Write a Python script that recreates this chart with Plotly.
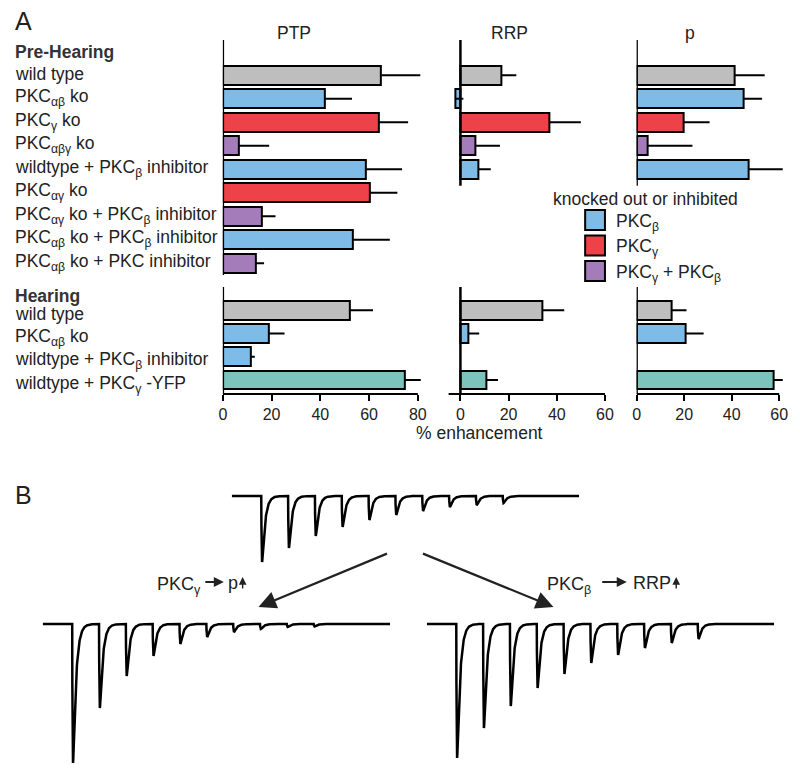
import numpy as np
import plotly.graph_objects as go

# The page body has an 8px margin; positions below are given in window pixels
OFF = 8
W, H = 792, 763
FONT = "Liberation Sans, Arial, Helvetica, sans-serif"
TXT = "#222222"

# ---------------- data ----------------
pre_labels = [
    "wild type",
    "PKC<sub>αβ</sub> ko",
    "PKC<sub>γ</sub> ko",
    "PKC<sub>αβγ</sub> ko",
    "wildtype + PKC<sub>β</sub> inhibitor",
    "PKC<sub>αγ</sub> ko",
    "PKC<sub>αγ</sub> ko + PKC<sub>β</sub> inhibitor",
    "PKC<sub>αβ</sub> ko + PKC<sub>β</sub> inhibitor",
    "PKC<sub>αβ</sub> ko + PKC inhibitor",
]
pre_groups = ["wt", "beta", "gamma", "both", "beta", "gamma", "both", "beta", "both"]

hear_labels = [
    "wild type",
    "PKC<sub>αβ</sub> ko",
    "wildtype + PKC<sub>β</sub> inhibitor",
    "wildtype + PKC<sub>γ</sub> -YFP",
]
hear_groups = ["wt", "beta", "beta", "yfp"]

ptp_pre = [65, 42, 64, 6.6, 58.5, 60.2, 16.2, 53.5, 13.4]
ptp_pre_err = [16, 11, 12, 12.4, 15, 11.4, 5.4, 15, 3.5]
rrp_pre = [17.2, -2.0, 37, 6.4, 7.4]
rrp_pre_err = [6, 3.2, 13, 10, 5.2]
p_pre = [41.1, 44.9, 19.9, 4.6, 47]
p_pre_err = [12.8, 7.9, 10.8, 18.9, 14.5]

ptp_hear = [52, 18.8, 11.5, 74.7]
ptp_hear_err = [9.6, 6.5, 1.6, 6.5]
rrp_hear = [33.9, 3.4, None, 10.6]
rrp_hear_err = [9.2, 4.4, 0, 5]
p_hear = [14.6, 20.7, None, 57.8]
p_hear_err = [6.4, 7.5, 0, 3.7]

group_colors = {
    "wt": "#bebebe",
    "beta": "#7fbbe7",
    "gamma": "#ec4248",
    "both": "#a57cba",
    "yfp": "#7cc4bb",
}
legend_items = [
    ("beta", "PKC<sub>β</sub>"),
    ("gamma", "PKC<sub>γ</sub>"),
    ("both", "PKC<sub>γ</sub> + PKC<sub>β</sub>"),
]

# Panel B: EPSC amplitudes (nA) of a 10-pulse train
stim_interval_ms = 10
top_amp = [6.6, 5.2, 4.0, 3.1, 2.4, 1.9, 1.5, 1.1, 0.9, 0.7]
gamma_amp = [13.9, 8.4, 5.2, 3.2, 2.0, 1.3, 0.8, 0.5, 0.3, 0.25]
beta_amp = [13.4, 10.4, 8.2, 6.4, 5.0, 3.9, 3.1, 2.4, 1.9, 1.5]


# ---------------- helpers (window pixels -> paper) ----------------
def px(x):
    return (x - OFF) / W


def py(y):
    return 1 - (y - OFF) / H


def xd(a, b):
    return [px(a), px(b)]


def yd(top, bottom):
    return [py(bottom), py(top)]


fig = go.Figure()


def add_bars(vals, errs, groups, ax):
    n = len(vals)
    fig.add_trace(go.Bar(
        x=vals, y=list(range(n)), orientation="h", width=0.81,
        marker=dict(color=[group_colors[g] for g in groups[:n]],
                    line=dict(color="black", width=2)),
        error_x=dict(type="data", array=errs, arrayminus=[0] * n,
                     symmetric=False, color="black", thickness=2, width=0),
        xaxis="x" + ax, yaxis="y" + ax, showlegend=False, cliponaxis=False,
        hoverinfo="skip",
    ))


add_bars(ptp_pre, ptp_pre_err, pre_groups, "")
add_bars(rrp_pre, rrp_pre_err, pre_groups, "2")
add_bars(p_pre, p_pre_err, pre_groups, "3")
add_bars(ptp_hear, ptp_hear_err, hear_groups, "4")
add_bars(rrp_hear, rrp_hear_err, hear_groups, "5")
add_bars(p_hear, p_hear_err, hear_groups, "6")

# Panel B traces
t = np.arange(-11, 118.5, 0.05)


def epsc_train(amps):
    tr, td = 0.12, 1.1
    tpk = np.log(td / tr) * td * tr / (td - tr)
    norm = np.exp(-tpk / td) - np.exp(-tpk / tr)
    y = np.zeros_like(t)
    for i, a in enumerate(amps):
        s = t - i * stim_interval_ms
        k = np.where(s > 0, (np.exp(-s / td) - np.exp(-s / tr)) / norm, 0.0)
        y -= a * k
    return y


for amps, ax in [(top_amp, "7"), (gamma_amp, "8"), (beta_amp, "9")]:
    fig.add_trace(go.Scatter(
        x=t, y=epsc_train(amps), mode="lines",
        line=dict(color="black", width=2.5),
        xaxis="x" + ax, yaxis="y" + ax, showlegend=False, hoverinfo="skip",
    ))

# ---------------- axes ----------------
k_ptp, k_rrp, k_p = 197 / 80, 146 / 60, 144 / 60
xdom = {
    "ptp": xd(221, 221 + 84 * k_ptp),
    "rrp": xd(461 - 5 * k_rrp, 461 + 62 * k_rrp),
    "p": xd(639, 639 + 64 * k_p),
}
xrng = {"ptp": [0, 84], "rrp": [-5, 62], "p": [0, 64]}
xline = {"ptp": [0, 80], "rrp": [-5, 60], "p": [0, 60]}
xticks = {"ptp": [0, 20, 40, 60, 80], "rrp": [0, 20, 40, 60], "p": [0, 20, 40, 60]}

layout_axes = {}
names = ["ptp", "rrp", "p"]
for i, nm in enumerate(names):
    a = "" if i == 0 else str(i + 1)
    ydom_pre = yd(40, 275) if nm == "ptp" else yd(40, 40 + 6.2 * 23.5)
    yr_pre = [8.5, -1.5] if nm == "ptp" else [4.7, -1.5]
    layout_axes["xaxis" + a] = dict(domain=xdom[nm], range=xrng[nm], anchor="y" + a,
                                    visible=False, fixedrange=True)
    layout_axes["yaxis" + a] = dict(domain=ydom_pre, range=yr_pre, anchor="x" + a,
                                    visible=False, fixedrange=True)
    b = str(i + 4)
    layout_axes["xaxis" + b] = dict(
        domain=xdom[nm], range=xrng[nm], anchor="y" + b,
        showgrid=False, zeroline=False, showline=False,
        ticks="outside", ticklen=6, tickwidth=2, tickcolor="black",
        tickvals=xticks[nm], ticktext=[str(v) for v in xticks[nm]],
        tickfont=dict(family=FONT, size=16, color=TXT), fixedrange=True,
    )
    layout_axes["yaxis" + b] = dict(domain=yd(287, 394), range=[3.6, -1.0],
                                    anchor="x" + b, visible=False, fixedrange=True)

for ax, x0, ytop in [("7", 230, 488), ("8", 39, 616), ("9", 427, 616)]:
    layout_axes["xaxis" + ax] = dict(domain=xd(x0, x0 + 351), range=[-11, 118.5],
                                     anchor="y" + ax, visible=False, fixedrange=True)
    layout_axes["yaxis" + ax] = dict(domain=yd(ytop, ytop + 153), range=[-14.5, 0.8],
                                     anchor="x" + ax, visible=False, fixedrange=True)

# ---------------- shapes ----------------
shapes = []
for a in ["", "2", "3", "4", "5", "6"]:
    shapes.append(dict(type="line", xref="x" + a, yref=("y" + a) + " domain",
                       x0=0, x1=0, y0=0, y1=1, line=dict(color="black", width=2.5)))
for i, nm in enumerate(names):
    b = str(i + 4)
    shapes.append(dict(type="line", xref="x" + b, yref="y" + b + " domain",
                       x0=xline[nm][0], x1=xline[nm][1], y0=0, y1=0,
                       line=dict(color="black", width=2)))

for j, (g, lab) in enumerate(legend_items):
    top = 210 + j * 25.5
    shapes.append(dict(type="rect", xref="paper", yref="paper",
                       x0=px(587), x1=px(607), y0=py(top + 20), y1=py(top),
                       fillcolor=group_colors[g], line=dict(color="black", width=2)))

# ---------------- annotations ----------------
ann = []


def text(x, y, s, size=17.5, xanchor="left", yanchor="middle", **kw):
    d = dict(x=px(x), y=py(y), xref="paper", yref="paper", text=s, showarrow=False,
             xanchor=xanchor, yanchor=yanchor,
             font=dict(family=FONT, size=size, color=TXT))
    d.update(kw)
    ann.append(d)


text(9, 21, "A", size=25)
text(9, 495, "B", size=25)

text(293, 33, "PTP", xanchor="center")
text(511, 33, "RRP", xanchor="center")
text(693, 33, "p", xanchor="center")

ann.append(dict(x=px(9), y=-1, xref="paper", yref="y", text="<b>Pre-Hearing</b>",
                showarrow=False, xanchor="left", yanchor="middle",
                font=dict(family=FONT, size=17.5, color="#333333")))
for i, lab in enumerate(pre_labels):
    ann.append(dict(x=px(9), y=i, xref="paper", yref="y", text=lab, showarrow=False,
                    xanchor="left", yanchor="middle", yshift=1,
                    font=dict(family=FONT, size=17.5, color=TXT)))
ann.append(dict(x=px(9), y=-1, xref="paper", yref="y4", text="<b>Hearing</b>",
                showarrow=False, xanchor="left", yanchor="middle", yshift=-9,
                font=dict(family=FONT, size=17.5, color="#333333")))
for i, lab in enumerate(hear_labels):
    ann.append(dict(x=px(9), y=i, xref="paper", yref="y4", text=lab, showarrow=False,
                    xanchor="left", yanchor="middle", yshift=-4,
                    font=dict(family=FONT, size=17.5, color=TXT)))

text(480, 433, "% enhancement", xanchor="center")

text(648, 199, "knocked out or inhibited", xanchor="center")
for j, (g, lab) in enumerate(legend_items):
    text(616, 222 + j * 25.5, lab)

# panel B labels
text(152, 585, "PKC<sub>γ</sub>", size=18)
text(224, 583, "p", size=18)
text(546, 585, "PKC<sub>β</sub>", size=18)
text(633, 583, "RRP", size=18)


def arrow(x_head, y_head, x_tail, y_tail, width, size, head=2):
    ann.append(dict(x=px(x_head), y=py(y_head), xref="paper", yref="paper",
                    ax=x_tail - x_head, ay=y_tail - y_head, axref="pixel", ayref="pixel",
                    text="", showarrow=True, arrowhead=head, arrowsize=size,
                    arrowwidth=width, arrowcolor="#222222", standoff=0, startstandoff=0))


arrow(257, 607, 387, 553, 2.2, 1.6)
arrow(555, 607, 423, 553, 2.2, 1.6)
arrow(222, 582, 202, 582, 2.0, 1.0)
arrow(629, 582, 603, 582, 2.0, 1.0)
arrow(241, 577, 241, 590, 1.4, 1.1)
arrow(679, 577, 679, 590, 1.4, 1.1)

fig.update_layout(
    width=W, height=H,
    margin=dict(l=0, r=0, t=0, b=0),
    paper_bgcolor="white", plot_bgcolor="rgba(0,0,0,0)",
    showlegend=False, bargap=0,
    shapes=shapes, annotations=ann,
    font=dict(family=FONT, color=TXT),
    **layout_axes,
)

fig.write_html("out.html")
